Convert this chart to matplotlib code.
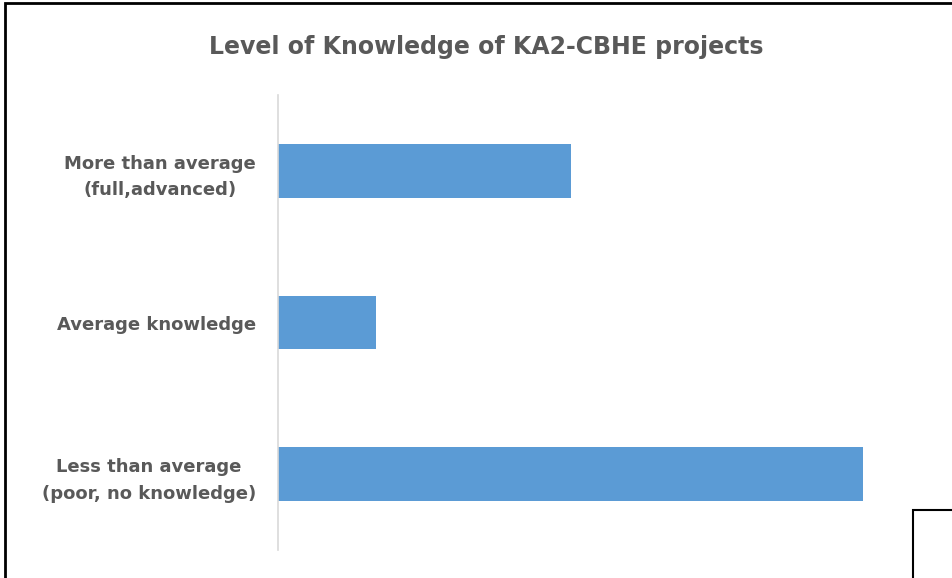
import matplotlib.pyplot as plt
from matplotlib.patches import Rectangle

# categories top to bottom
categories = ['More than average\n(full,advanced)',
              'Average knowledge',
              'Less than average\n(poor, no knowledge)']
values = [30, 10, 60]

W, H = 953, 578
fig = plt.figure(figsize=(W / 100, H / 100), dpi=100)
fig.patch.set_facecolor('white')

# plot area in pixel terms
left, right, top, bottom = 278, 910, 95, 550
ax = fig.add_axes([left / W, 1 - bottom / H, (right - left) / W, (bottom - top) / H])

ypos = list(range(len(categories)))
ax.barh(ypos, values, height=0.355, color='#5B9BD5')
ax.set_ylim(2.5, -0.5)
ax.set_xlim(0, 64.8)

for s in ['top', 'right', 'bottom']:
    ax.spines[s].set_visible(False)
ax.spines['left'].set_color('#D9D9D9')
ax.spines['left'].set_linewidth(1.2)
ax.set_xticks([])
ax.set_yticks(ypos)
ax.set_yticklabels(categories, fontsize=13, fontweight='bold', color='#595959',
                   multialignment='center', linespacing=1.6)
ax.tick_params(axis='y', length=0, pad=16)

fig.text(486 / W, 1 - 47 / H, 'Level of Knowledge of KA2-CBHE projects',
         ha='center', va='center', fontsize=17, fontweight='bold', color='#595959')

# outer frame and small box in the corner
fig.patches.append(Rectangle((5 / W, -0.1), 1.1, 1 - 3 / H + 0.1,
                             transform=fig.transFigure, fill=False,
                             edgecolor='black', linewidth=2))
fig.patches.append(Rectangle((913 / W, -0.1), 0.2, 1 - 510 / H + 0.1,
                             transform=fig.transFigure, fill=False,
                             edgecolor='black', linewidth=1.5))

plt.savefig('out.png', dpi=100, facecolor='white')
